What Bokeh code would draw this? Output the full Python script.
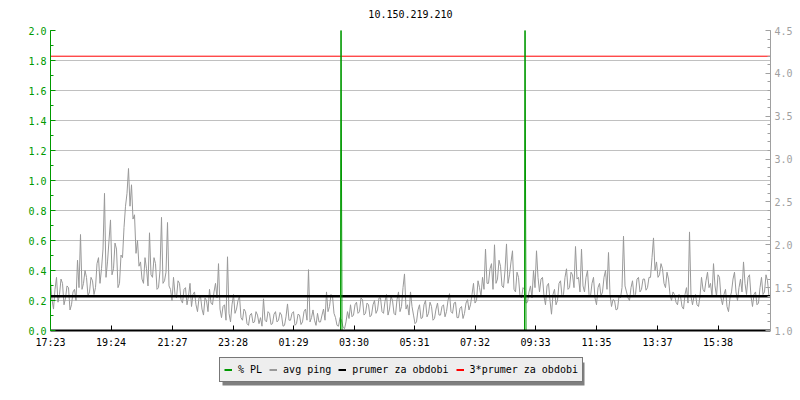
from bokeh.plotting import figure
from bokeh.layouts import column
from bokeh.core.properties import value
from bokeh.models import (Range1d, LinearAxis, SingleIntervalTicker, FixedTicker,
                          PrintfTickFormatter, Legend, LegendItem, Grid, BoxAnnotation)
from bokeh.embed import file_html
from bokeh.resources import INLINE

title = "10.150.219.210"
start_label = "17:23"
tick_labels = ["17:23", "19:24", "21:27", "23:28", "01:29", "03:30",
               "05:31", "07:32", "09:33", "11:35", "13:37", "15:38"]
period_minutes = 1440
sample_step = 3  # minutes between avg ping samples

avg_ping = [
    1.58, 1.36, 1.25, 1.48, 1.62, 1.33, 1.42, 1.60, 1.55, 1.30, 1.38, 1.52, 1.50, 1.24, 1.30, 1.45, 1.48, 1.35, 1.82, 1.50,
    2.12, 1.48, 1.55, 1.70, 1.62, 1.40, 1.45, 1.62, 1.58, 1.42, 1.50, 1.78, 1.85, 1.55, 1.72, 1.95, 2.60, 1.62, 1.80, 2.05,
    2.29, 1.65, 1.72, 2.02, 1.95, 1.50, 1.55, 1.88, 1.85, 2.20, 2.45, 2.60, 2.89, 2.45, 2.70, 2.30, 2.35, 1.90, 2.05, 1.75,
    1.80, 1.60, 1.55, 1.85, 1.72, 1.52, 2.14, 1.65, 1.62, 1.85, 1.78, 1.48, 1.50, 1.70, 2.32, 1.55, 1.58, 1.68, 2.26, 1.52,
    1.48, 1.35, 1.62, 1.42, 1.38, 1.58, 1.55, 1.36, 1.32, 1.48, 1.50, 1.30, 1.40, 1.55, 1.28, 1.42, 1.45, 1.30, 1.22, 1.38,
    1.40, 1.25, 1.18, 1.38, 1.35, 1.22, 1.48, 1.32, 1.30, 1.45, 1.55, 1.38, 1.78, 1.25, 1.15, 1.28, 1.30, 1.12, 1.86, 1.20,
    1.10, 1.30, 1.42, 1.20, 1.25, 1.35, 1.40, 1.15, 1.12, 1.25, 1.22, 1.08, 1.06, 1.18, 1.20, 1.09, 1.10, 1.22, 1.18, 1.08,
    1.15, 1.05, 1.37, 1.12, 1.10, 1.22, 1.20, 1.07, 1.08, 1.19, 1.22, 1.10, 1.12, 1.21, 1.18, 1.05, 1.06, 1.16, 1.31, 1.12,
    1.12, 1.20, 1.22, 1.06, 1.08, 1.19, 1.18, 1.07, 1.10, 1.22, 1.25, 1.12, 1.71, 1.10, 1.15, 1.24, 1.12, 1.06, 1.20, 1.10,
    1.10, 1.18, 1.25, 1.12, 1.45, 1.22, 1.28, 1.42, 1.40, 1.20, 1.15, 1.06, 1.05, 1.15, 1.12, 1.04, 1.02, 1.10, 1.22, 1.14,
    1.30, 1.16, 1.18, 1.30, 1.33, 1.20, 1.22, 1.38, 1.36, 1.18, 1.20, 1.32, 1.30, 1.16, 1.18, 1.30, 1.35, 1.20, 1.24, 1.38,
    1.38, 1.22, 1.20, 1.34, 1.42, 1.18, 1.25, 1.40, 1.35, 1.20, 1.18, 1.36, 1.45, 1.22, 1.28, 1.50, 1.66, 1.25, 1.30, 1.18,
    1.45, 1.28, 1.18, 1.08, 1.10, 1.24, 1.30, 1.14, 1.15, 1.30, 1.35, 1.16, 1.20, 1.33, 1.28, 1.12, 1.14, 1.25, 1.32, 1.18,
    1.18, 1.28, 1.30, 1.16, 1.22, 1.35, 1.43, 1.22, 1.20, 1.32, 1.33, 1.15, 1.15, 1.26, 1.28, 1.14, 1.20, 1.32, 1.36, 1.24,
    1.30, 1.42, 1.55, 1.32, 1.35, 1.58, 1.50, 1.40, 1.62, 1.48, 1.95, 1.55, 1.55, 1.72, 1.78, 1.48, 2.00, 1.55, 1.60, 1.82,
    1.75, 1.52, 1.50, 1.70, 2.01, 1.55, 1.65, 1.80, 1.93, 1.48, 1.45, 1.68, 1.62, 1.40, 1.38, 1.50, 1.48, 1.32, 1.33, 1.45,
    1.52, 1.38, 1.70, 1.50, 1.93, 1.62, 1.45, 1.60, 1.62, 1.40, 1.30, 1.52, 1.55, 1.35, 1.19, 1.42, 1.48, 1.30, 1.35, 1.55,
    1.58, 1.40, 1.42, 1.62, 1.72, 1.48, 1.50, 1.68, 1.65, 1.50, 1.98, 1.60, 1.62, 1.45, 1.95, 1.52, 1.45, 1.62, 1.70, 1.42,
    1.40, 1.55, 1.62, 1.38, 1.30, 1.50, 1.55, 1.40, 1.45, 1.62, 1.70, 1.48, 1.91, 1.42, 1.28, 1.36, 1.35, 1.24, 1.25, 1.40,
    1.38, 1.50, 2.10, 1.52, 1.45, 1.38, 1.35, 1.50, 1.58, 1.40, 1.42, 1.60, 1.62, 1.45, 1.48, 1.60, 1.60, 1.47, 1.50, 1.62,
    1.62, 1.85, 2.08, 1.70, 1.80, 1.62, 1.65, 1.78, 1.72, 1.55, 1.50, 1.68, 1.60, 1.42, 1.35, 1.45, 1.42, 1.33, 1.30, 1.42,
    1.40, 1.28, 1.25, 1.42, 1.50, 1.32, 2.15, 1.40, 1.30, 1.40, 1.42, 1.30, 1.28, 1.40, 1.62, 1.48, 1.45, 1.58, 1.68, 1.50,
    1.55, 1.40, 1.78, 1.52, 1.40, 1.65, 1.62, 1.38, 1.30, 1.42, 1.48, 1.28, 1.22, 1.38, 1.45, 1.60, 1.68, 1.45, 1.35, 1.50,
    1.60, 1.45, 1.80, 1.55, 1.42, 1.62, 1.65, 1.40, 1.28, 1.42, 1.45, 1.30, 1.32, 1.50, 1.62, 1.42, 1.45, 1.65, 1.58, 1.40,
]

pl_minutes = [0, 580, 581, 582, 583, 948, 949, 950, 951, 1440]
pl_values = [0, 0, 3.0, 1.0, 0, 0, 3.0, 1.0, 0, 0]

period_mean = 1.40
mean_factor = 3

legend_labels = ["% PL", "avg ping", "prumer za obdobi", "3*prumer za obdobi"]


def to_minutes(s):
    h, m = map(int, s.split(":"))
    h0, m0 = map(int, start_label.split(":"))
    return (h * 60 + m - (h0 * 60 + m0)) % 1440


tick_pos = [to_minutes(s) for s in tick_labels]
ping_x = [i * sample_step for i in range(len(avg_ping))]

FONT = "DejaVu Sans Mono"
GREEN = "#009900"
GREY = "#999999"
LGREY = "#a0a0a0"
GRID = "#c0c0c0"
RED = "#ff0000"
FW = 720  # frame width in px


def strip(h):
    f = figure(frame_width=FW, frame_height=h, x_range=Range1d(0, FW), y_range=Range1d(0, h),
               x_axis_type=None, y_axis_type=None, output_backend="svg",
               toolbar_location=None, min_border_left=50, min_border_right=22,
               min_border_top=0, min_border_bottom=0)
    f.outline_line_color = None
    f.grid.visible = False
    f.background_fill_color = "white"
    f.border_fill_color = "white"
    return f


# title strip
TH = 22
top = strip(TH)
top.text(x=[FW / 2], y=[TH - 13], text=[title], text_align="center",
         text_baseline="middle", text_font=value(FONT), text_font_size="10px",
         text_color="black")

p = figure(frame_width=FW, frame_height=300,
           x_range=Range1d(0, period_minutes), y_range=Range1d(0, 2.0),
           x_axis_type=None, y_axis_type=None,
           output_backend="svg", toolbar_location=None,
           min_border_left=50, min_border_right=22, min_border_top=8,
           min_border_bottom=26)
p.outline_line_color = None
p.background_fill_color = "white"
p.border_fill_color = "white"

p.extra_y_ranges = {"ping": Range1d(1.0, 4.5)}

left_ticker = SingleIntervalTicker(interval=0.2, num_minor_ticks=2)
right_ticker = SingleIntervalTicker(interval=0.5, num_minor_ticks=5)

p.add_layout(Grid(dimension=1, ticker=left_ticker, grid_line_color=GRID,
                  grid_line_width=1))

left = LinearAxis(ticker=left_ticker, formatter=PrintfTickFormatter(format="%.1f"))
right = LinearAxis(ticker=right_ticker, y_range_name="ping",
                   formatter=PrintfTickFormatter(format="%.1f"))
bottom = LinearAxis(ticker=FixedTicker(ticks=tick_pos, minor_ticks=[]),
                    major_label_overrides={t: l for t, l in zip(tick_pos, tick_labels)})

for ax, col in ((left, GREEN), (right, LGREY), (bottom, "black")):
    ax.axis_line_color = col
    ax.major_tick_line_color = col
    ax.minor_tick_line_color = col
    ax.major_label_text_color = col
    ax.major_label_text_font = FONT
    ax.major_label_text_font_size = "10px"
    ax.major_tick_in = 5
    ax.major_tick_out = 0
    ax.minor_tick_in = 3
    ax.minor_tick_out = 0
    ax.major_label_standoff = 4
bottom.axis_line_width = 2
bottom.major_label_standoff = 6

p.add_layout(left, "left")
p.add_layout(right, "right")
p.add_layout(bottom, "below")

p.line(ping_x, avg_ping, line_color=GREY, line_width=1, y_range_name="ping")
p.line([0, period_minutes], [period_mean, period_mean], line_color="black",
       line_width=2.5, y_range_name="ping")
p.line([0, period_minutes], [mean_factor * period_mean] * 2, line_color=RED,
       line_width=1, y_range_name="ping")
p.line(pl_minutes, pl_values, line_color=GREEN, line_width=1)

# legend strip below the chart (pixel-unit ranges)
lg = strip(36)
nan = float("nan")
dummies = [lg.line([0, 0], [nan, nan], line_color=c, line_width=2)
           for c in (GREEN, GREY, "black", RED)]
items = [LegendItem(label=l, renderers=[r]) for l, r in zip(legend_labels, dummies)]

# drop shadow behind the legend box
lg.add_layout(BoxAnnotation(left=172, right=534, bottom=7, top=30,
                            fill_color="#7f7f7f", fill_alpha=1.0, line_color=None))
lg.add_layout(Legend(items=items, location=(169, 10), orientation="horizontal",
                     label_text_font=FONT, label_text_font_size="10px",
                     label_text_color="black", background_fill_color="#eeeeee",
                     background_fill_alpha=1.0, border_line_color="black",
                     border_line_width=1, glyph_width=8, glyph_height=15,
                     label_height=15, label_standoff=6, spacing=7, padding=4,
                     margin=0), "center")

layout = column(top, p, lg, spacing=0)
open("out.html", "w").write(file_html(layout, INLINE))
